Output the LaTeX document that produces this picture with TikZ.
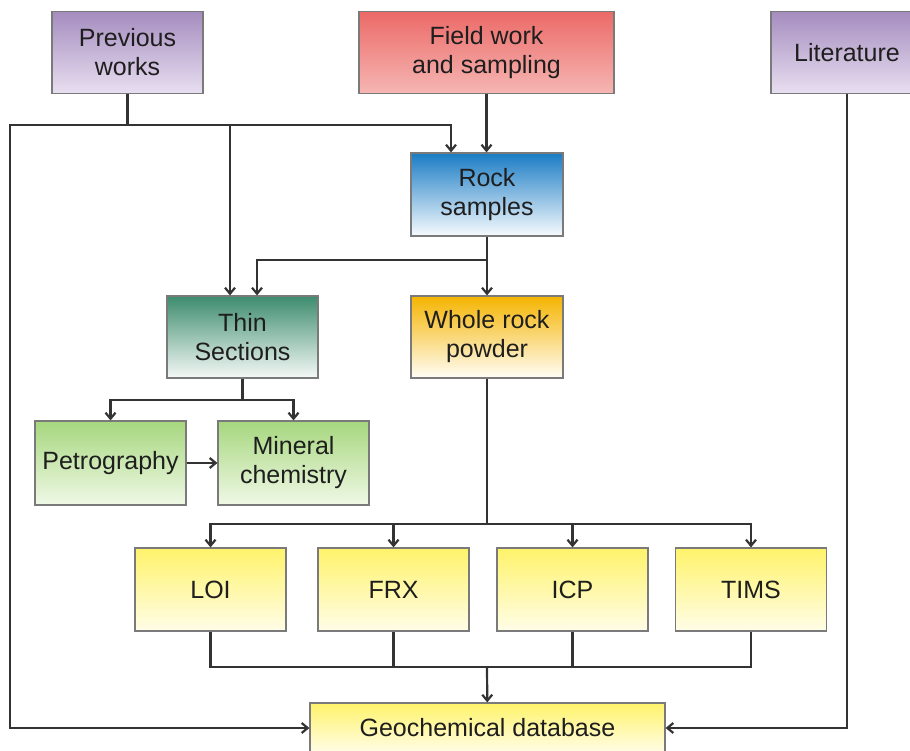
\documentclass[tikz,border=0pt]{standalone}
\usepackage{fontspec}
\setmainfont{Liberation Sans}
\usetikzlibrary{arrows.meta, calc, shadings}
\definecolor{lilactop}{HTML}{A58CBF}
\definecolor{lilacbot}{HTML}{E8DFF0}
\definecolor{redtop}{HTML}{EC6A68}
\definecolor{redbot}{HTML}{F5B6B3}
\definecolor{bluetop}{HTML}{1A7CC4}
\definecolor{bluebot}{HTML}{F7FBFE}
\definecolor{tealtop}{HTML}{3D8C6E}
\definecolor{tealbot}{HTML}{F5F9F7}
\definecolor{goldtop}{HTML}{F5B400}
\definecolor{goldbot}{HTML}{FFFDF6}
\definecolor{leaftop}{HTML}{A6D77E}
\definecolor{leafbot}{HTML}{F0F8E6}
\definecolor{lemontop}{HTML}{FFF36A}
\definecolor{lemonbot}{HTML}{FFFDE8}
\definecolor{edge}{HTML}{7A7A7A}
\definecolor{wire}{HTML}{333333}
\definecolor{ink}{HTML}{1E1E1E}

\begin{document}
\begin{tikzpicture}[x=1pt, y=-1pt,
  >={Straight Barb[length=6pt, width=10pt]},
  box/.style={draw=edge, line width=1.2pt, minimum width=151pt, minimum height=82pt,
    inner sep=0pt, align=center, text=ink, font=\fontsize{25}{29}\selectfont},
  link/.style={draw=wire, line width=2.2pt},
  arr/.style={link, ->}]

% Frame
\clip (0,0) rectangle (910,751);
\useasboundingbox (0,0) rectangle (910,751);

% ========== Sources ==========
\node[box, top color=lilactop, bottom color=lilacbot] (prev) at (127.5,52.5) {Previous\\works};
\node[box, top color=redtop, bottom color=redbot, minimum width=255pt] (field) at (486.5,52.5) {Field work\\and sampling};
\node[box, top color=lilactop, bottom color=lilacbot, minimum width=152pt] (lit) at (847,52.5) {Literature};

% ========== Samples ==========
\node[box, top color=bluetop, bottom color=bluebot, minimum width=152pt, minimum height=83pt] (rock) at (487,194.5) {Rock\\samples};
\node[box, top color=tealtop, bottom color=tealbot] (thin) at (242.5,337) {Thin\\Sections};
\node[box, top color=goldtop, bottom color=goldbot, minimum width=152pt] (whole) at (487,337) {Whole rock\\powder};

% Thin section work
\node[box, top color=leaftop, bottom color=leafbot, minimum height=84pt] (petro) at (110.5,463) {Petrography};
\node[box, top color=leaftop, bottom color=leafbot, minimum height=84pt] (mineral) at (293.5,463) {Mineral\\chemistry};

% Analyses
\node[box, top color=lemontop, bottom color=lemonbot, minimum height=83pt] (loi) at (210.5,589.5) {LOI};
\node[box, top color=lemontop, bottom color=lemonbot, minimum height=83pt] (frx) at (393.5,589.5) {FRX};
\node[box, top color=lemontop, bottom color=lemonbot, minimum height=83pt] (icp) at (572.5,589.5) {ICP};
\node[box, top color=lemontop, bottom color=lemonbot, minimum height=83pt] (tims) at (751,589.5) {TIMS};

% Result
\node[box, top color=lemontop, bottom color=lemonbot, minimum width=355pt, minimum height=50pt] (db) at (487.5,728) {Geochemical database};

% ========== Connectors ==========
\coordinate (pw) at (127.5,125);
\coordinate (lft) at (10,125);
\coordinate (rj) at (487,260);
\coordinate (tj) at (242.5,400);
\coordinate (wj) at (487,524);
\coordinate (bj) at (487,667);

% Previous works
\draw[link] (prev) -- (pw);
\draw[arr] (pw) -- (lft) |- (db.west);
\draw[arr] (pw) -| ([xshift=-36pt]rock.north);
\draw[arr] ([xshift=-12.5pt]thin.north |- pw) -- ([xshift=-12.5pt]thin.north);

% Field work
\draw[arr] (field) -- (rock.north -| field);

% Rock samples
\draw[link] (rock) -- (rj);
\draw[arr] (rj) -| ([xshift=14.5pt]thin.north);
\draw[arr] (rj) -- (whole);

% Thin sections
\draw[link] (thin) -- (tj);
\draw[arr] (tj) -| (petro.north);
\draw[arr] (tj) -| (mineral.north);
\draw[arr] (petro) -- (mineral);

% Whole rock powder
\draw[link] (whole) -- (wj);
\foreach \a in {loi, frx, icp, tims}
  \draw[arr] (wj) -| (\a.north);
\foreach \a in {loi, frx, icp, tims}
  \draw[link] (\a.south) |- (bj);
\draw[arr] (bj) -- (db);

% Literature
\draw[arr] (lit) |- (db.east);

\end{tikzpicture}
\end{document}
